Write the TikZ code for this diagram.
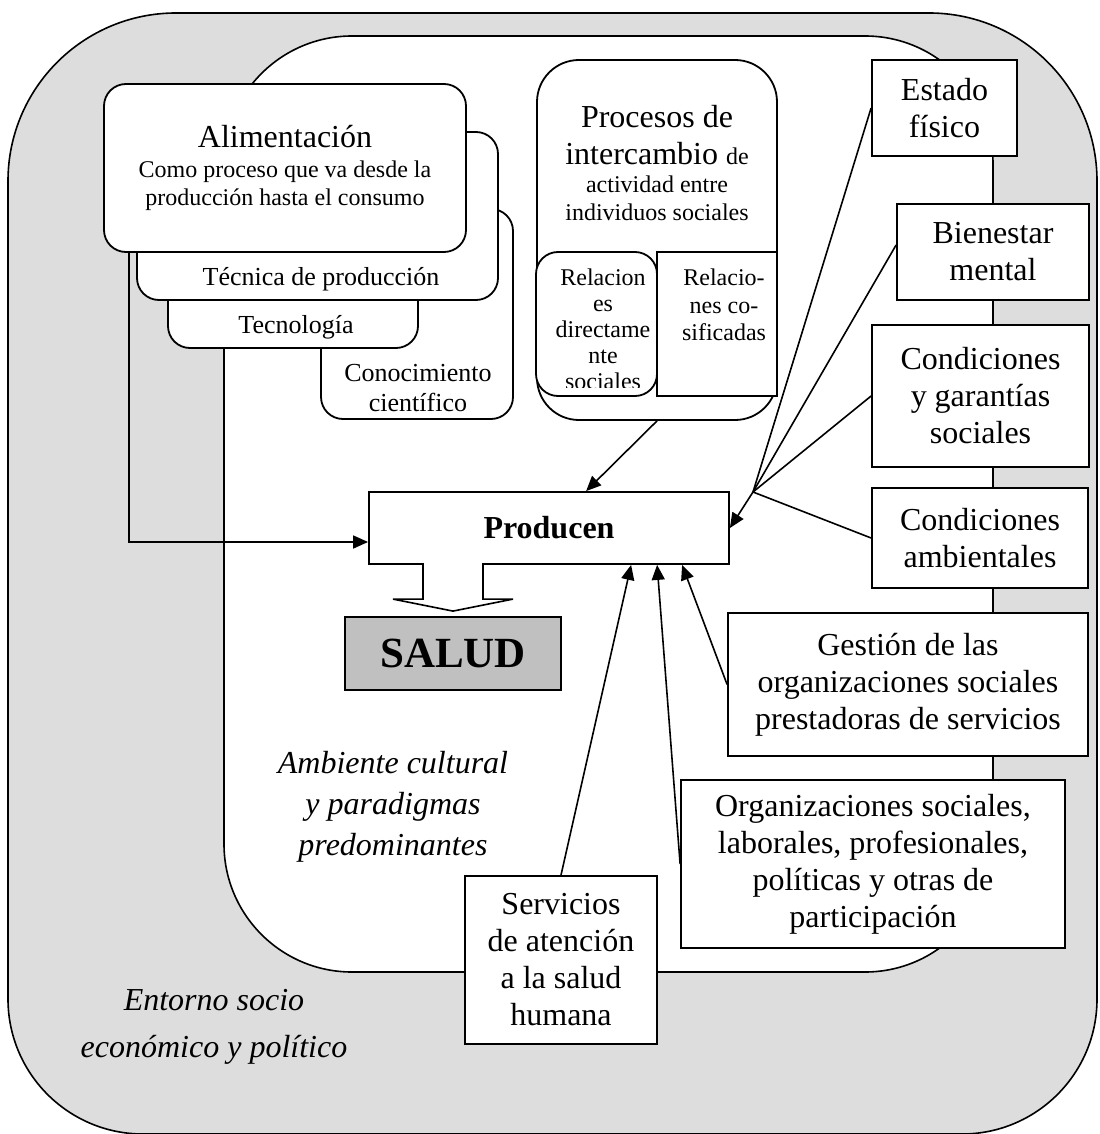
\documentclass[tikz,border=0pt]{standalone}
\usepackage{fontspec}
\setmainfont{Liberation Serif}
\usetikzlibrary{arrows.meta,calc}
\definecolor{outergray}{RGB}{221,221,221}
\definecolor{saludgray}{RGB}{192,192,192}
\newcommand{\fbig}{\fontsize{16}{18.5}\selectfont}
\newcommand{\fmid}{\fontsize{13}{15}\selectfont}
\newcommand{\fsmall}{\fontsize{12}{13.8}\selectfont}
\tikzset{box/.style={draw,fill=white,line width=0.9pt,inner sep=2pt,align=center,font=\fbig},
  rbox/.style={box,rounded corners=11pt},
  arr/.style={-{Triangle[length=7.5pt,width=6.5pt]},line width=0.8pt},
  ln/.style={line width=0.8pt}}

\begin{document}
\begin{tikzpicture}[x=0.5pt,y=-0.5pt,sz/.style 2 args={minimum width=#1*0.5pt,minimum height=#2*0.5pt}]
\useasboundingbox (0,0) rectangle (1099,1134);
\clip (0,0) rectangle (1099,1134);
% entorno y ambiente
\draw[line width=0.8pt,fill=outergray] (8,500) [rounded corners=84pt] -- (8,13) -- (1097,13) -- (1097,500)
  [rounded corners=67.5pt] -- (1097,1134) -- (8,1134) -- cycle;
\draw[line width=0.8pt,fill=white,rounded corners=64pt] (224,36) rectangle (993,972);
% alimentacion
\node[rbox,sz={192}{210}] (conoc) at (417,314) {};
\node[rbox,sz={250}{160}] (tecnologia) at (293,268) {};
\node[rbox,sz={361}{168}] (tecnica) at (317.5,216) {};
\node[rbox,sz={362}{168},font=\fsmall] (alim) at (285,168) {{\fbig Alimentación}\\[1.2pt]Como proceso que va desde la\\[0.2pt]producción hasta el consumo};
\node[font=\fmid] (tecnicaT) at (321,279) {Técnica de producción};
\node[font=\fmid] (tecnologiaT) at (296,327) {Tecnología};
\node[font=\fmid,align=center] (conocT) at (418,388) {Conocimiento\\científico};
% procesos
\node[box,rounded corners=21pt,sz={240}{360}] (procesos) at (657,240) {};
\node[align=center,font=\fbig] (procesosT) at (657,163) {Procesos de\\intercambio {\fsmall de}\\[-4.5pt]{\fsmall actividad entre}\\[-4.5pt]{\fsmall individuos sociales}};
\node[rbox,sz={121}{144}] (reldir) at (596.5,324) {};
\node[box,sz={120}{144}] (relcos) at (717,324) {};
\begin{scope}
\clip (538,254) rectangle (655,387);
\node[font=\fontsize{12}{13}\selectfont,align=center,anchor=north] (reldirT) at (603,262) {Relacion\\es\\directame\\nte\\sociales};
\end{scope}
\node[font=\fsmall,align=center,anchor=north] (relcosT) at (724,262) {Relacio-\\nes co-\\sificadas};
% centro
\node[box,sz={360}{72},font=\fbig\bfseries] (producen) at (549,528) {Producen};
\node[box,sz={216}{73},fill=saludgray,font=\fontsize{21.5}{24}\selectfont\bfseries] (salud) at (453,653.5) {SALUD};
% factores
\node[box,sz={145}{96}] (estado) at (944.5,108) {Estado\\físico};
\node[box,sz={192}{96}] (bienestar) at (993,252) {Bienestar\\mental};
\node[box,sz={217}{142}] (condsoc) at (980.5,396) {Condiciones\\y garantías\\sociales};
\node[box,sz={216}{100}] (condamb) at (980,538) {Condiciones\\ambientales};
\node[box,sz={360}{143}] (gestion) at (908,684.5) {Gestión de las\\organizaciones sociales\\prestadoras de servicios};
\node[box,sz={384}{168}] (org) at (873,864) {Organizaciones sociales,\\laborales, profesionales,\\políticas y otras de\\participación};
\node[box,sz={192}{168}] (servicios) at (561,960) {Servicios\\de atención\\a la salud\\humana};
\node[font=\fontsize{16}{20.5}\selectfont\itshape,align=center] (ambiente) at (393,807) {Ambiente cultural\\y paradigmas\\predominantes};
\node[font=\fontsize{16}{23.5}\selectfont\itshape,align=center] (entorno) at (214,1027) {Entorno socio\\económico y político};
% conexiones
\coordinate (hub) at (753,492);
\foreach \b in {estado,condsoc,condamb}{\draw[ln] (\b.west) -- (hub);}
\draw[ln] ([yshift=3.5pt]bienestar.west) -- (hub);
\draw[arr] (hub) -- (producen.east);
\draw[arr] (procesos.south) -- ($(producen.north west)+(218,0)$);
\foreach \b/\d in {servicios.north/263,org.west/289,gestion.west/314}{\draw[arr] (\b) -- ($(producen.south west)+(\d,0)$);}
\draw[arr] ($(alim.south west)+(26,0)$) |- ($(producen.west)+(0,14)$);
\draw[ln,fill=white] ($(salud.north)+(-30,-53)$) -- ++(0,36) -- ++(-30,0) -- ($(salud.north)+(0,-5)$)
  -- ($(salud.north)+(60,-17)$) -- ++(-30,0) -- ++(0,-36);
\end{tikzpicture}
\end{document}
